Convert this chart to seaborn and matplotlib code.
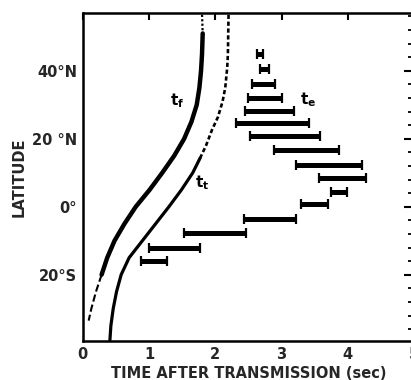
import numpy as np
import pandas as pd
import matplotlib
matplotlib.use("Agg")
import matplotlib.pyplot as plt
import seaborn as sns

# Travel-time curves: (time after transmission [s], latitude [deg])
tf_time = [1.80, 1.81, 1.80, 1.785, 1.76, 1.72, 1.64, 1.53, 1.38, 1.20, 1.01, 0.80, 0.63, 0.48, 0.37, 0.285, 0.20, 0.13, 0.09]
tf_lat = [56.5, 51.0, 45.0, 40.0, 35.0, 30.0, 25.0, 20.0, 15.0, 10.0, 5.0, 0.0, -5.0, -10.0, -15.0, -20.0, -25.0, -30.0, -33.5]

tt_time = [2.20, 2.19, 2.18, 2.15, 2.11, 2.04, 1.95, 1.86, 1.77, 1.66, 1.49, 1.30, 1.10, 0.90, 0.70, 0.58, 0.51, 0.46, 0.425, 0.41]
tt_lat = [56.5, 45.0, 41.0, 35.0, 31.0, 26.4, 22.6, 18.0, 14.3, 10.0, 5.0, 0.0, -5.0, -10.0, -15.0, -20.0, -25.0, -30.0, -35.0, -39.4]

# Echo time spans (t_e) per latitude
echo_lat = [45.0, 40.6, 36.1, 31.9, 28.2, 24.5, 20.8, 16.7, 12.2, 8.6, 4.4, 0.9, -3.5, -7.6, -12.2, -16.1]
echo_start = [2.63, 2.68, 2.55, 2.49, 2.45, 2.31, 2.53, 2.89, 3.21, 3.57, 3.74, 3.30, 2.43, 1.53, 1.00, 0.88]
echo_end = [2.72, 2.81, 2.90, 3.01, 3.19, 3.42, 3.58, 3.87, 4.21, 4.27, 3.98, 3.70, 3.22, 2.46, 1.77, 1.27]

lat_ticks = [-20, 0, 20, 40]
lat_labels = ["20°S", "0°", "20 °N", "40°N"]
time_ticks = [0, 1, 2, 3, 4, 5]

sns.set_theme(style="white")
plt.rcParams["font.family"] = ["DejaVu Sans"]
plt.rcParams["font.weight"] = "bold"
plt.rcParams["mathtext.fontset"] = "dejavusans"

fig = plt.figure(figsize=(4.11, 3.80), dpi=100)
ax = fig.add_axes([0.2012, 0.1026, 0.8066, 0.864])

tf = pd.DataFrame({"time": tf_time, "lat": tf_lat})
tt = pd.DataFrame({"time": tt_time, "lat": tt_lat})

def seg(df, hi, lo):
    return df[(df["lat"] <= hi) & (df["lat"] >= lo)]

# t_f: dotted top, heavy solid middle, thin dashed tail
sns.lineplot(data=seg(tf, 60, 51.0), x="time", y="lat", sort=False, estimator=None,
             color="black", lw=1.6, linestyle=(0, (1, 1)), ax=ax)
sns.lineplot(data=seg(tf, 51.0, -20.0), x="time", y="lat", sort=False, estimator=None,
             color="black", lw=3.2, solid_capstyle="round", solid_joinstyle="round", ax=ax)
sns.lineplot(data=seg(tf, -20.0, -40), x="time", y="lat", sort=False, estimator=None,
             color="black", lw=1.5, linestyle=(0, (3.5, 1.5)), ax=ax)

# t_t: short dashes above, solid below
sns.lineplot(data=seg(tt, 60, 14.3), x="time", y="lat", sort=False, estimator=None,
             color="black", lw=1.9, linestyle=(0, (1.6, 1.0)), ax=ax)
sns.lineplot(data=seg(tt, 14.3, -40), x="time", y="lat", sort=False, estimator=None,
             color="black", lw=2.3, solid_capstyle="round", solid_joinstyle="round", ax=ax)

# t_e: horizontal spans with end caps
start = np.array(echo_start)
end = np.array(echo_end)
mid = (start + end) / 2
ax.errorbar(mid, echo_lat, xerr=[mid - start, end - mid], fmt="none", ecolor="black",
            elinewidth=3.6, capsize=3.4, capthick=1.6)

ax.text(1.42, 31.1, r"$\mathbf{t}_\mathbf{f}$", ha="center", va="center", fontsize=11, color="black")
ax.text(1.80, 7.2, r"$\mathbf{t}_\mathbf{t}$", ha="center", va="center", fontsize=11, color="black")
ax.text(3.40, 31.4, r"$\mathbf{t}_\mathbf{e}$", ha="center", va="center", fontsize=11, color="black")

ax.set_xlim(0, 5)
ax.set_ylim(-39.5, 57.1)
ax.set_xticks(time_ticks)
ax.set_xticklabels([str(t) for t in time_ticks], fontsize=10.5, fontweight="bold")
ax.set_yticks(lat_ticks)
ax.set_yticklabels(lat_labels, fontsize=10.5, fontweight="bold")
ax.set_yticks([v for v in range(-36, 57, 4) if v not in lat_ticks], minor=True)

ax.tick_params(axis="both", which="both", direction="in", top=True, right=True, color="black")
ax.tick_params(axis="x", which="major", length=5, width=1.5, pad=4)
ax.tick_params(axis="y", which="major", length=7, width=1.5, pad=4)
ax.tick_params(axis="y", which="minor", length=4, width=1.3)

for side in ["left", "top", "bottom", "right"]:
    ax.spines[side].set_color("black")
    ax.spines[side].set_linewidth(1.8)

ax.set_xlabel("TIME AFTER TRANSMISSION (sec)", fontsize=10.5, fontweight="bold", labelpad=3)
ax.set_ylabel("LATITUDE", fontsize=10.5, fontweight="bold", labelpad=4)

fig.savefig("out.png", dpi=100, facecolor="white")
